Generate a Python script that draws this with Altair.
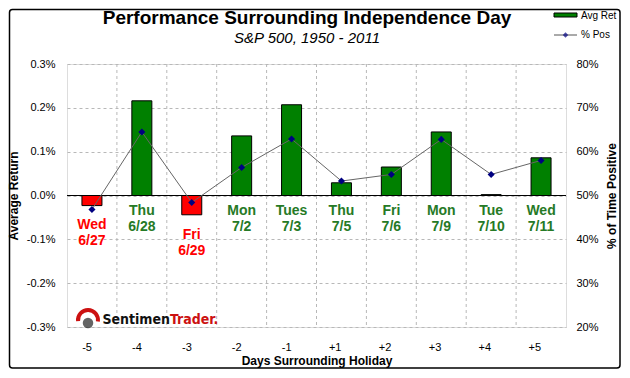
import altair as alt
import pandas as pd

days = ["-5", "-4", "-3", "-2", "-1", "+1", "+2", "+3", "+4", "+5"]
weekday = ["Wed", "Thu", "Fri", "Mon", "Tues", "Thu", "Fri", "Mon", "Tue", "Wed"]
dates = ["6/27", "6/28", "6/29", "7/2", "7/3", "7/5", "7/6", "7/9", "7/10", "7/11"]
avg_ret = [-0.023, 0.216, -0.044, 0.136, 0.207, 0.029, 0.065, 0.145, 0.002, 0.086]
pct_pos = [46.8, 64.5, 48.4, 56.4, 62.9, 53.3, 54.8, 62.8, 54.8, 58.0]
left_ticks = [-0.3, -0.2, -0.1, 0.0, 0.1, 0.2, 0.3]
right_ticks = [20, 30, 40, 50, 60, 70, 80]
title_text = "Performance Surrounding Independence Day"
subtitle_text = "S&P 500, 1950 - 2011"

df = pd.DataFrame({
    "day": days,
    "avg_ret": avg_ret,
    "pct_pos": pct_pos,
    "label": [w + "\n" + d for w, d in zip(weekday, dates)],
})

FONT = "Liberation Sans"
W, H = 499, 263

x_enc = alt.X("day:O", sort=days,
              scale=alt.Scale(domain=days, paddingInner=0, paddingOuter=0),
              axis=alt.Axis(title="Days Surrounding Holiday", labelAngle=0,
                            ticks=False, domain=False, grid=False,
                            labelPadding=20, titlePadding=3,
                            labelFontSize=11, titleFontSize=12))

yl_scale = alt.Scale(domain=[-0.3, 0.3], nice=False)
yl_axis = alt.Axis(title="Average Return", values=left_ticks, grid=True,
                   gridDash=[3, 3], gridColor="#b8b8b8", domain=False, ticks=False,
                   labelPadding=12, titlePadding=6, labelFontSize=11, titleFontSize=12,
                   labelExpr="replace(format(datum.value, '.1f'), '\u2212', '-') + '%'")

base = alt.Chart(df)

bars = base.mark_bar(size=20, stroke="black", strokeWidth=1).encode(
    x=x_enc,
    y=alt.Y("avg_ret:Q", scale=yl_scale, axis=yl_axis),
    color=alt.condition(alt.datum.avg_ret < 0, alt.value("#ff0000"), alt.value("#008000")),
)

vgrid = base.transform_filter(alt.datum.day != "-5").mark_rule(
    color="#b8b8b8", strokeDash=[3, 3]).encode(
    x=alt.X("day:O", sort=days, bandPosition=0),
    y=alt.value(0), y2=alt.value(H))

zero = alt.Chart(pd.DataFrame({"z": [0]})).mark_rule(color="black", strokeWidth=1).encode(
    y=alt.Y("z:Q", scale=yl_scale, axis=yl_axis))

labels = base.transform_calculate(
    label_y="datum.avg_ret < 0 ? datum.avg_ret - 0.011 : 0").mark_text(
    lineBreak="\n", baseline="top", dy=8, font=FONT, fontSize=14, fontWeight="bold",
    lineHeight=16).encode(
    x=alt.X("day:O", sort=days),
    y=alt.Y("label_y:Q", scale=yl_scale, axis=yl_axis),
    text="label:N",
    color=alt.condition(alt.datum.avg_ret < 0, alt.value("#ff0000"), alt.value("#267a26")),
)

one = pd.DataFrame({"a": [0]})

# title (drawn as text so it sits where the reference has it)
t_main = alt.Chart(one).mark_text(align="center", baseline="alphabetic", font=FONT,
                                  fontSize=19, fontWeight="bold", color="black").encode(
    x=alt.value(240), y=alt.value(-40), text=alt.value(title_text))
t_sub = alt.Chart(one).mark_text(align="center", baseline="alphabetic", font=FONT,
                                 fontSize=15, fontStyle="italic", color="black").encode(
    x=alt.value(240), y=alt.value(-21), text=alt.value(subtitle_text))

# legend
leg_rect = alt.Chart(one).mark_rect(fill="#008000", stroke="black", strokeWidth=1).encode(
    x=alt.value(487), x2=alt.value(510), y=alt.value(-51), y2=alt.value(-47))
leg_t1 = alt.Chart(one).mark_text(align="left", baseline="middle", font=FONT, fontSize=10).encode(
    x=alt.value(514), y=alt.value(-48), text=alt.value("Avg Ret"))
leg_line = alt.Chart(one).mark_rule(color="#555", strokeWidth=1).encode(
    x=alt.value(487), x2=alt.value(510), y=alt.value(-29))
leg_pt = alt.Chart(one).mark_point(shape="diamond", filled=True, color="#000080", size=30).encode(
    x=alt.value(498.5), y=alt.value(-29))
leg_t2 = alt.Chart(one).mark_text(align="left", baseline="middle", font=FONT, fontSize=10).encode(
    x=alt.value(514), y=alt.value(-29), text=alt.value("% Pos"))

# logo
LOGO_FONT = "DejaVu Sans Condensed, Liberation Sans Narrow, Liberation Sans"
logo_arc = alt.Chart(one).mark_arc(color="#cc1111").encode(
    x=alt.value(21), y=alt.value(256), radius=alt.value(12), radius2=alt.value(8),
    theta=alt.value(4.6), theta2=alt.value(8.0))
logo_dot = alt.Chart(one).mark_point(shape="circle", filled=True, color="#222", size=110).encode(
    x=alt.value(21), y=alt.value(259))
logo_t1 = alt.Chart(one).mark_text(align="right", baseline="middle", font=LOGO_FONT,
                                   fontSize=14, fontWeight="bold", color="#111").encode(
    x=alt.value(103), y=alt.value(256), text=alt.value("Sentimen"))
logo_t2 = alt.Chart(one).mark_text(align="left", baseline="middle", font=LOGO_FONT,
                                   fontSize=14, fontWeight="bold", color="#cc1111").encode(
    x=alt.value(103), y=alt.value(256), text=alt.value("Trader."))

# outer border
border = alt.Chart(one).mark_rect(fill=None, stroke="black", strokeWidth=1.5, cornerRadius=3).encode(
    x=alt.value(-57.5), x2=alt.value(W + 54), y=alt.value(-54.5), y2=alt.value(H + 41))

left = alt.layer(vgrid, bars, zero, labels, t_main, t_sub, leg_rect, leg_t1, leg_line,
                 leg_pt, leg_t2, logo_arc, logo_dot, logo_t1, logo_t2, border)

yr_scale = alt.Scale(domain=[20, 80], nice=False)
yr_axis = alt.Axis(title="% of Time Positive", orient="right", values=right_ticks, grid=False,
                   domain=False, ticks=False, labelPadding=10, titlePadding=20,
                   titleAngle=270, labelFontSize=11, titleFontSize=12,
                   labelExpr="format(datum.value, 'd') + '%'")

line = base.mark_line(color="#666666", strokeWidth=1).encode(
    x=alt.X("day:O", sort=days),
    y=alt.Y("pct_pos:Q", scale=yr_scale, axis=yr_axis))
pts = base.mark_point(shape="diamond", filled=True, color="#000080", size=50, opacity=1).encode(
    x=alt.X("day:O", sort=days),
    y=alt.Y("pct_pos:Q", scale=yr_scale, axis=yr_axis))
right = alt.layer(line, pts)

chart = alt.layer(left, right).resolve_scale(y="independent").properties(
    width=W, height=H,
    autosize=alt.AutoSizeParams(type="none"),
    padding={"left": 59, "top": 56, "right": 56, "bottom": 43},
).configure_view(stroke="#444444", strokeWidth=1).configure_axis(
    labelFont=FONT, titleFont=FONT, labelColor="black", titleColor="black",
    titleFontWeight="bold").configure(background="white")

chart.save("out.html", embed_options={"renderer": "svg", "actions": False})
